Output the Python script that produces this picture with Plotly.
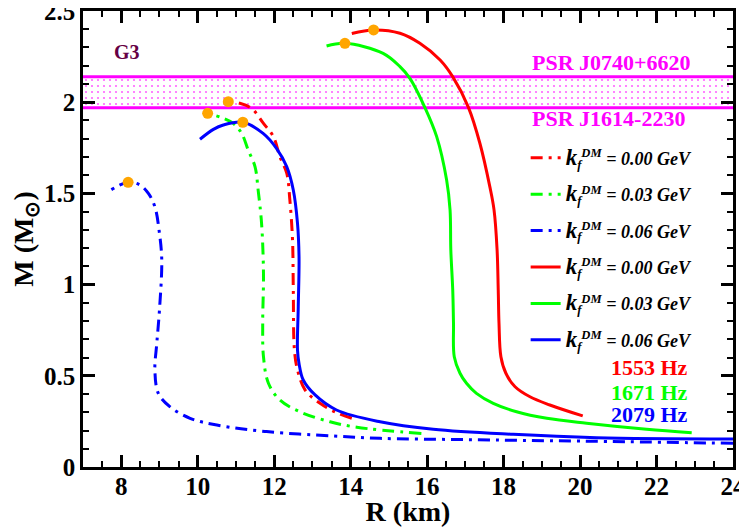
import numpy as np
import plotly.graph_objects as go

# mass-radius curves (R in km, M in solar masses)
# dash-dot: static stars, solid: rotating stars
r_static_000 = [14.03, 13.63, 13.20, 12.81, 12.61, 12.53, 12.50, 12.48, 12.41, 12.33, 12.15, 11.98, 11.72, 11.41, 11.10, 10.80]
m_static_000 = [0.267, 0.298, 0.349, 0.422, 0.532, 0.641, 0.970, 1.245, 1.464, 1.610, 1.701, 1.811, 1.884, 1.966, 1.994, 2.003]

r_static_003 = [15.85, 14.16, 13.46, 12.67, 12.15, 11.85, 11.72, 11.70, 11.72, 11.67, 11.58, 11.50, 11.32, 11.15, 10.93, 10.67, 10.26]
m_static_003 = [0.184, 0.218, 0.248, 0.303, 0.367, 0.459, 0.605, 0.788, 1.062, 1.336, 1.519, 1.646, 1.738, 1.829, 1.884, 1.912, 1.939]

r_static_006 = [24.0, 20.0, 17.0, 14.77, 13.55, 11.80, 10.50, 9.80, 9.27, 8.97, 8.88, 8.93, 9.00, 9.06, 9.00, 8.88, 8.71, 8.49, 8.18, 7.73]
m_static_006 = [0.130, 0.142, 0.150, 0.157, 0.170, 0.194, 0.230, 0.267, 0.331, 0.404, 0.532, 0.678, 0.861, 1.135, 1.281, 1.427, 1.500, 1.546, 1.561, 1.519]

r_rot_000 = [20.07, 19.21, 18.69, 18.30, 18.06, 17.93, 17.88, 17.86, 17.83, 17.75, 17.64, 17.38, 17.08, 16.68, 16.34, 15.81, 15.29, 14.60, 14.03]
m_rot_000 = [0.280, 0.340, 0.385, 0.440, 0.514, 0.605, 0.788, 0.970, 1.190, 1.410, 1.537, 1.775, 1.972, 2.136, 2.231, 2.323, 2.378, 2.396, 2.377]

r_rot_003 = [22.92, 21.74, 20.17, 19.13, 18.34, 17.73, 17.29, 17.03, 16.86, 16.71, 16.69, 16.67, 16.62, 16.60, 16.51, 16.25, 15.94, 15.55, 15.29, 14.85, 13.85, 13.37]
m_rot_003 = [0.188, 0.207, 0.240, 0.267, 0.303, 0.349, 0.404, 0.459, 0.514, 0.605, 0.788, 0.970, 1.190, 1.409, 1.573, 1.811, 1.972, 2.131, 2.195, 2.268, 2.323, 2.308]

r_rot_006 = [24.0, 20.43, 18.25, 16.16, 14.77, 13.63, 13.07, 12.76, 12.65, 12.61, 12.63, 12.65, 12.61, 12.50, 12.33, 12.06, 11.71, 11.18, 10.67, 10.41, 10.06]
m_rot_006 = [0.154, 0.161, 0.179, 0.207, 0.248, 0.3125, 0.395, 0.477, 0.568, 0.641, 0.879, 1.153, 1.336, 1.519, 1.646, 1.747, 1.829, 1.890, 1.875, 1.851, 1.797]

kf_labels = ["0.00", "0.03", "0.06"]
freq_labels = ["1553 Hz", "1671 Hz", "2079 Hz"]
colors = ["#ff0000", "#00ff00", "#0000ff"]

# pulsar mass constraints
psr_low = 1.97
psr_high = 2.14

FONT = "Liberation Serif"

fig = go.Figure()

# PSR band
fig.add_trace(go.Scatter(x=[7, 24], y=[psr_low, psr_low], mode="lines",
                         line=dict(color="#ff00ff", width=3), showlegend=False, hoverinfo="skip"))
fig.add_trace(go.Scatter(x=[7, 24], y=[psr_high, psr_high], mode="lines", fill="tonexty",
                         fillcolor="white",
                         fillpattern=dict(shape=".", fgcolor="#ff00ff", bgcolor="white",
                                          size=6, solidity=0.1, fgopacity=0.6),
                         line=dict(color="#ff00ff", width=3), showlegend=False, hoverinfo="skip"))

static = [(r_static_000, m_static_000), (r_static_003, m_static_003), (r_static_006, m_static_006)]
rotating = [(r_rot_000, m_rot_000), (r_rot_003, m_rot_003), (r_rot_006, m_rot_006)]

def kf_name(k):
    return f"<span style='font-size:23px'>k</span><sub>f</sub><sup>DM</sup> = {k} GeV"

n = 0
for (r, m), k, c in zip(static, kf_labels, colors):
    n += 1
    fig.add_trace(go.Scatter(x=r, y=m, mode="lines", name=kf_name(k), legendgroup=f"g{n}",
                             line=dict(color=c, width=3, dash="12px,6px,3px,6px",
                                       shape="spline", smoothing=1.0)))
for (r, m), k, c in zip(rotating, kf_labels, colors):
    n += 1
    fig.add_trace(go.Scatter(x=r, y=m, mode="lines", name=kf_name(k), legendgroup=f"g{n}",
                             line=dict(color=c, width=3, shape="spline", smoothing=1.0)))

# maximum-mass points
for r, m in static + rotating:
    i = int(np.argmax(m))
    fig.add_trace(go.Scatter(x=[r[i]], y=[m[i]], mode="markers", showlegend=False,
                             marker=dict(color="#ffa500", size=11)))

bold = dict(family=FONT, weight="bold")
annotations = [
    dict(x=8.16, y=2.275, text="G3", font=dict(size=20, color="#660044", **bold)),
    dict(x=20.82, y=2.215, text="PSR J0740+6620", font=dict(size=22, color="#ff00ff", **bold)),
    dict(x=20.74, y=1.908, text="PSR J1614-2230", font=dict(size=22, color="#ff00ff", **bold)),
]
for txt, c, yy in zip(freq_labels, colors, [0.548, 0.411, 0.29]):
    annotations.append(dict(x=22.87, y=yy, text=txt, xanchor="right",
                            font=dict(size=22, color=c, **bold)))
for a in annotations:
    a.update(xref="x", yref="y", showarrow=False)

axis_common = dict(showline=True, linewidth=2.5, linecolor="black", mirror="allticks",
                   ticks="inside", ticklen=12, tickwidth=2.5, tickcolor="black",
                   showgrid=False, zeroline=False, automargin=False,
                   ticklabeloverflow="allow",
                   tickfont=dict(size=25, color="black", **bold))

# the page body has an 8px margin, so the figure is shifted by 8px
fig.update_layout(
    width=731, height=519,
    margin=dict(l=75, r=6, t=3, b=60),
    plot_bgcolor="white", paper_bgcolor="white",
    font=dict(family=FONT, color="black"),
    xaxis=dict(range=[7, 24], dtick=2, tick0=0, ticklabelstandoff=-5,
               minor=dict(dtick=0.5, ticklen=6, tickwidth=2, ticks="inside", tickcolor="black"),
               title=dict(text="R (km)", font=dict(size=28, **bold), standoff=4),
               **axis_common),
    yaxis=dict(range=[0, 2.5], dtick=0.5, tick0=0,
               minor=dict(dtick=0.1, ticklen=6, tickwidth=2, ticks="inside", tickcolor="black"),
               title=dict(text="M (M<sub>⊙</sub>)", font=dict(size=28, **bold), standoff=22),
               **axis_common),
    legend=dict(x=0.681, y=0.718, xanchor="left", yanchor="top", bgcolor="rgba(0,0,0,0)",
                traceorder="grouped", tracegroupgap=10,
                font=dict(family=FONT, size=18, weight="bold", style="italic", color="black"),
                itemwidth=30),
    annotations=annotations,
)

fig.write_html("out.html")
